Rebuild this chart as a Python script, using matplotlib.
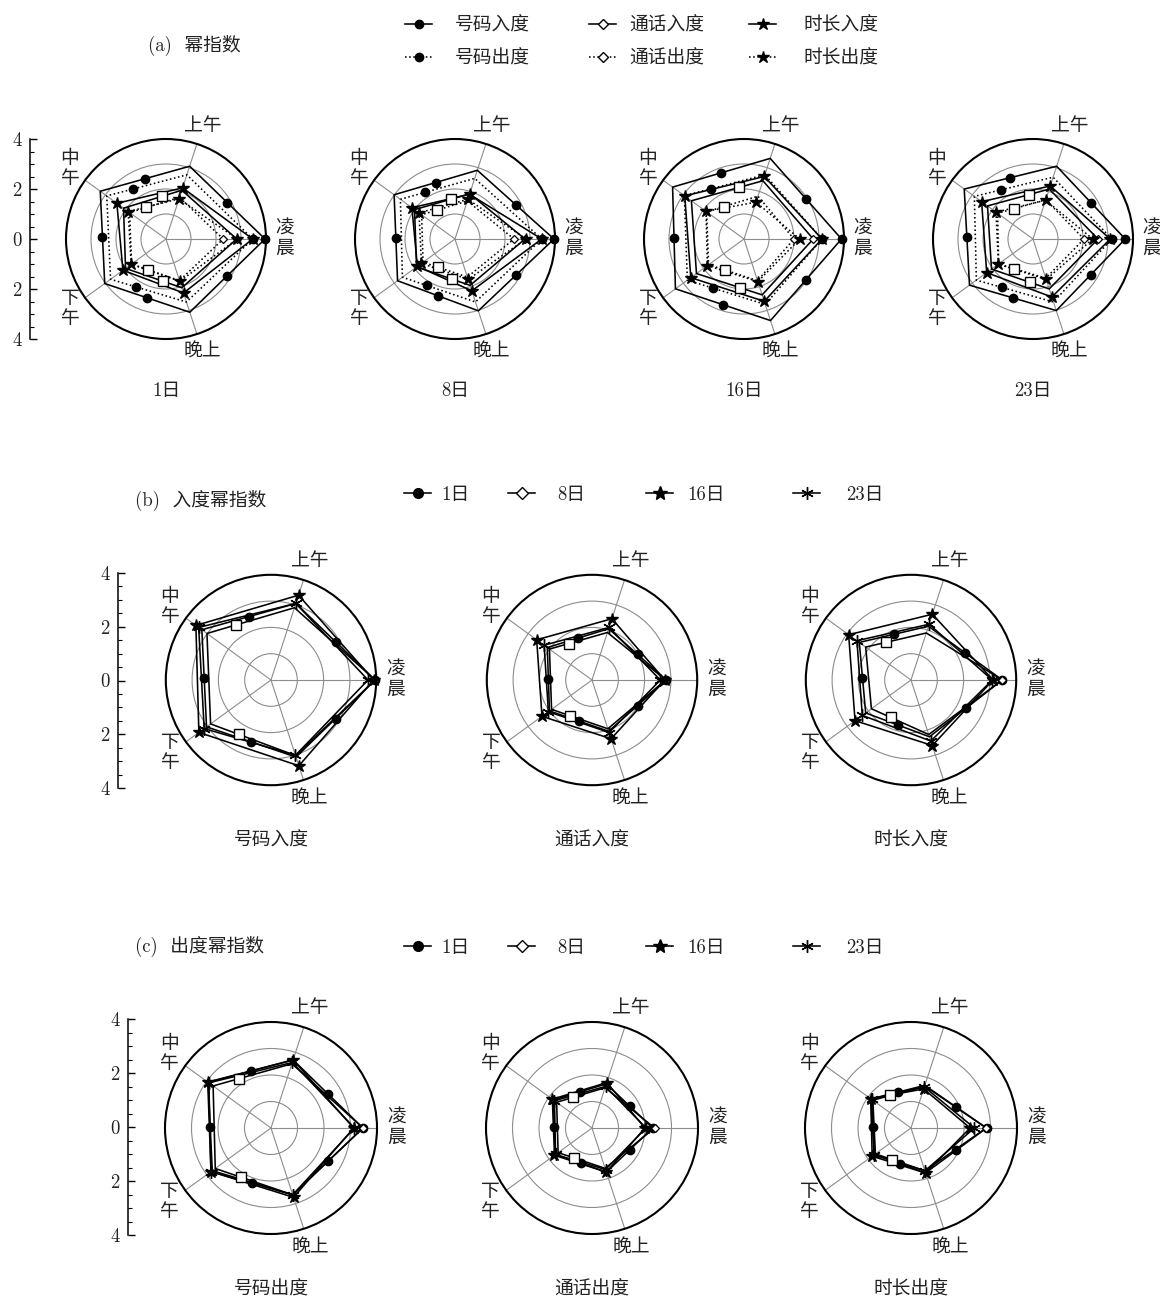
import numpy as np
import matplotlib
matplotlib.use('Agg')
import matplotlib.pyplot as plt
from matplotlib.lines import Line2D
from matplotlib.patches import Circle
from matplotlib.ticker import MultipleLocator

plt.rcParams['font.family'] = ['cmr10', 'Noto Sans CJK SC']
plt.rcParams['axes.unicode_minus'] = False
plt.rcParams['mathtext.fontset'] = 'cm'

# ---------------  Power exponents, order: 凌晨 上午 中午 下午 晚上  ------------

periods = ['凌晨', '上午', '中午', '下午', '晚上']
days = ['1日', '8日', '16日', '23日']
in_names = ['号码入度', '通话入度', '时长入度']
out_names = ['号码出度', '通话出度', '时长出度']

# one row per day (1日, 8日, 16日, 23日)
num_in = [[3.96, 3.06, 3.25, 3.03, 3.08],
          [3.96, 2.89, 3.01, 2.84, 3.02],
          [3.90, 3.39, 3.53, 3.39, 3.43],
          [3.69, 3.06, 3.40, 3.14, 3.01]]
num_out = [[3.47, 2.70, 2.93, 2.74, 2.65],
           [3.47, 2.55, 2.70, 2.60, 2.65],
           [3.12, 2.70, 2.95, 2.80, 2.75],
           [3.15, 2.60, 2.90, 2.80, 2.65]]
call_in = [[2.83, 2.05, 2.10, 2.00, 2.05],
           [2.80, 1.90, 2.00, 1.90, 1.95],
           [2.77, 2.45, 2.60, 2.35, 2.35],
           [2.60, 2.10, 2.25, 2.05, 2.10]]
call_out = [[2.29, 1.75, 1.80, 1.70, 1.75],
            [2.36, 1.60, 1.65, 1.58, 1.60],
            [2.00, 1.80, 1.85, 1.75, 1.75],
            [2.04, 1.65, 1.75, 1.70, 1.65]]
dur_in = [[3.47, 2.15, 2.43, 2.13, 2.27],
          [3.47, 1.88, 2.13, 1.86, 2.18],
          [3.12, 2.63, 2.93, 2.63, 2.62],
          [3.09, 2.23, 2.54, 2.29, 2.44]]
dur_out = [[2.85, 1.69, 1.87, 1.72, 1.78],
           [2.84, 1.67, 1.78, 1.66, 1.70],
           [2.23, 1.55, 1.88, 1.81, 1.79],
           [2.39, 1.63, 1.83, 1.71, 1.70]]

# ---------------  Figure layout (pixels)  ------------

W, H = 1160, 1300
fig = plt.figure(figsize=(W / 100, H / 100), dpi=100)

theta = np.deg2rad([0, 72, 144, 216, 288])
DOTTED = (0, (1, 1.6))
TXT = '#222222'
FS = 13.5

# marker styles along the polygon, s = position in vertex units
MARK = {
    'circle_a': dict(s=[0, 0.5, 1.5, 2.5, 3.5, 4.5], marker='o', ms=6, mfc='k'),
    'circle_b': dict(s=[0, 5 / 3, 10 / 3], marker='o', ms=6, mfc='k'),
    'diamond_a': dict(s=[4 / 3, 11 / 3], marker='s', ms=6.5, mfc='white', first='D'),
    'diamond_b': dict(s=[5 / 3, 10 / 3], marker='s', ms=6.5, mfc='white', first='D'),
    'star': dict(s=[0, 1, 2, 3, 4], marker='*', ms=9, mfc='k'),
    'asterisk': dict(s=[0, 1, 2, 3, 4], marker=(6, 2, 0), ms=9, mfc='k'),
}


def polygon_xy(vals):
    r = np.append(vals, vals[0])
    th = np.append(theta, 2 * np.pi)
    return r * np.cos(th), r * np.sin(th)


def along(vals, s):
    x, y = polygon_xy(vals)
    s = np.asarray(s, dtype=float)
    i = np.floor(s).astype(int)
    f = s - i
    return x[i] * (1 - f) + x[i + 1] * f, y[i] * (1 - f) + y[i + 1] * f


def draw_series(ax, vals, ls, kind):
    x, y = polygon_xy(vals)
    ax.plot(x, y, color='k', ls=ls, lw=1.15, zorder=3)
    m = MARK[kind]
    px, py = along(vals, m['s'])
    ax.plot(px, py, ls='none', marker=m['marker'], ms=m['ms'], mfc=m['mfc'],
            mec='k', mew=1.0, color='k', zorder=4)
    if 'first' in m:
        fx, fy = along(vals, [0])
        ax.plot(fx, fy, ls='none', marker='D', ms=4.5, mfc='white', mec='k',
                mew=0.9, zorder=4)


def panel(cx, cy, unit, title, hw=142, top=132, bot=172):
    ax = fig.add_axes([(cx - hw) / W, 1 - (cy + bot) / H, 2 * hw / W, (top + bot) / H])
    ax.set_xlim(-hw / unit, hw / unit)
    ax.set_ylim(-bot / unit, top / unit)
    ax.axis('off')
    for r in (1, 2, 3):
        ax.add_patch(Circle((0, 0), r, fill=False, ec='0.55', lw=0.8, zorder=1))
    ax.add_patch(Circle((0, 0), 4, fill=False, ec='k', lw=1.5, zorder=2))
    for t in theta:
        ax.plot([0, 4 * np.cos(t)], [0, 4 * np.sin(t)], color='0.55', lw=0.8, zorder=1)
    lab = ['凌\n晨', '上午', '中\n午', '下\n午', '晚上']
    for t, txt in zip(theta, lab):
        ax.text(4.75 * np.cos(t), 4.75 * np.sin(t), txt, ha='center', va='center',
                fontsize=FS, color=TXT, linespacing=1.15)
    ax.text(0, -6.1, title, ha='center', va='center', fontsize=FS, color=TXT)
    return ax


def radial_scale(x_px, y_top, y_bot):
    sa = fig.add_axes([x_px / W, 1 - y_bot / H, 0.0005, (y_bot - y_top) / H])
    sa.set_ylim(-4, 4)
    for s in ('top', 'right', 'bottom'):
        sa.spines[s].set_visible(False)
    sa.spines['left'].set_linewidth(1.1)
    sa.set_xticks([])
    sa.set_yticks([-4, -2, 0, 2, 4])
    sa.set_yticklabels(['4', '2', '0', '2', '4'])
    sa.yaxis.set_minor_locator(MultipleLocator(0.5))
    sa.tick_params(axis='y', which='major', direction='in', length=5, width=1,
                   labelsize=FS, pad=6, labelcolor=TXT)
    sa.tick_params(axis='y', which='minor', direction='in', length=3, width=0.8)
    sa.patch.set_visible(False)


def legend_entry(x_px, y_px, handle, label, pad_px):
    fig.legend(handles=[handle], labels=[label], loc='center left',
               bbox_to_anchor=(x_px / W, 1 - y_px / H), frameon=False,
               borderpad=0, borderaxespad=0, handlelength=1.45, numpoints=1,
               handletextpad=pad_px / 19.0, fontsize=FS, labelcolor=TXT)


# ---------------  (a) every metric for each day  ------------

a_centers = [166, 455, 744, 1033]
for d, cx in enumerate(a_centers):
    ax = panel(cx, 239, 25.0, days[d], hw=140, top=128, bot=170)
    draw_series(ax, num_in[d], '-', 'circle_a')
    draw_series(ax, num_out[d], DOTTED, 'circle_b')
    draw_series(ax, call_in[d], '-', 'diamond_a')
    draw_series(ax, call_out[d], DOTTED, 'diamond_b')
    draw_series(ax, dur_in[d], '-', 'star')
    draw_series(ax, dur_out[d], DOTTED, 'star')
radial_scale(30, 139, 339)

fig.text(148 / W, 1 - 45 / H, '(a)  幂指数', ha='left', va='center', fontsize=FS, color=TXT)
a_leg = [
    (405, 26, Line2D([], [], color='k', lw=1.15, marker='o', ms=6), '号码入度', 23),
    (405, 59, Line2D([], [], color='k', lw=1.15, ls=DOTTED, marker='o', ms=6), '号码出度', 23),
    (589, 26, Line2D([], [], color='k', lw=1.15, marker='D', ms=5.5, mfc='white'), '通话入度', 13),
    (589, 59, Line2D([], [], color='k', lw=1.15, ls=DOTTED, marker='D', ms=5.5, mfc='white'), '通话出度', 13),
    (749, 26, Line2D([], [], color='k', lw=1.15, marker='*', ms=9), '时长入度', 28),
    (749, 59, Line2D([], [], color='k', lw=1.15, ls=DOTTED, marker='*', ms=9), '时长出度', 28),
]
for x, y, h, lab, pad in a_leg:
    legend_entry(x, y, h, lab, pad)

# ---------------  (b) in-degree and (c) out-degree for each metric  ------------

day_kinds = ['circle_a', 'diamond_b', 'star', 'asterisk']
b_data = [num_in, call_in, dur_in]
c_data = [num_out, call_out, dur_out]
bc_centers = [271, 592, 911]

for i, cx in enumerate(bc_centers):
    ax = panel(cx, 680, 26.3, in_names[i], hw=150, top=135, bot=180)
    for d in range(4):
        draw_series(ax, b_data[i][d], '-', day_kinds[d])
    ax = panel(cx, 1128, 26.5, out_names[i], hw=150, top=135, bot=172)
    for d in range(4):
        draw_series(ax, c_data[i][d], '-', day_kinds[d])
radial_scale(118, 573, 788)
radial_scale(128, 1019, 1235)

fig.text(135 / W, 1 - 500 / H, '(b)  入度幂指数', ha='left', va='center', fontsize=FS, color=TXT)
fig.text(135 / W, 1 - 946 / H, '(c)  出度幂指数', ha='left', va='center', fontsize=FS, color=TXT)

day_handles = [
    lambda: Line2D([], [], color='k', lw=1.15, marker='o', ms=7),
    lambda: Line2D([], [], color='k', lw=1.15, marker='D', ms=6, mfc='white'),
    lambda: Line2D([], [], color='k', lw=1.15, marker='*', ms=10),
    lambda: Line2D([], [], color='k', lw=1.15, marker=(6, 2, 0), ms=9),
]
day_x = [(404, 10), (508, 22), (646, 14), (793, 26)]
for y in (495, 948):
    for (x, pad), mk, lab in zip(day_x, day_handles, days):
        legend_entry(x, y, mk(), lab, pad)

fig.savefig('out.png', dpi=100, facecolor='white')
